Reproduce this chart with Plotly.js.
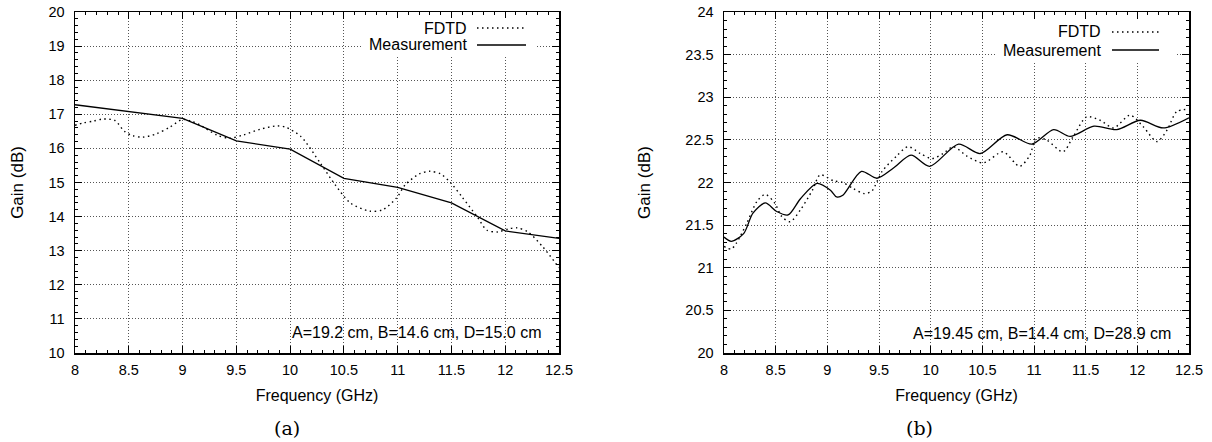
<!DOCTYPE html>
<html>
<head>
<meta charset="utf-8">
<script src="https://cdn.plot.ly/plotly-3.0.1.min.js"></script>
<style>html,body{margin:0;padding:0;background:#fff;}#chart{width:1212px;height:442px;}</style>
</head>
<body>
<div id="chart"></div>
<script>
// ---- Panel (a) data ----
const freqA_meas = [8, 8.5, 9, 9.5, 10, 10.5, 11, 11.5, 12, 12.5];
const gainA_meas = [17.28, 17.08, 16.88, 16.22, 15.98, 15.12, 14.86, 14.40, 13.58, 13.36];

const freqA_fdtd = [8.0, 8.08, 8.17, 8.26, 8.37, 8.46, 8.54, 8.63, 8.76, 8.88, 9.0, 9.08, 9.16, 9.32, 9.44, 9.57, 9.72, 9.88, 9.96, 10.1, 10.28, 10.42, 10.56, 10.74, 10.86, 10.99, 11.07, 11.2, 11.3, 11.4, 11.49, 11.6, 11.74, 11.83, 11.93, 12.03, 12.11, 12.21, 12.35, 12.5];
const gainA_fdtd = [16.68, 16.75, 16.80, 16.86, 16.82, 16.50, 16.37, 16.33, 16.43, 16.62, 16.85, 16.80, 16.69, 16.39, 16.30, 16.40, 16.56, 16.66, 16.62, 16.35, 15.57, 14.93, 14.40, 14.16, 14.20, 14.55, 14.93, 15.25, 15.33, 15.25, 15.00, 14.57, 13.99, 13.60, 13.55, 13.64, 13.67, 13.55, 13.11, 12.50];

// ---- Panel (b) data ----
const freqB_meas = [8.0, 8.07, 8.19, 8.28, 8.40, 8.51, 8.62, 8.74, 8.90, 9.03, 9.09, 9.15, 9.33, 9.48, 9.64, 9.81, 9.99, 10.27, 10.48, 10.74, 10.98, 11.19, 11.35, 11.58, 11.80, 12.03, 12.25, 12.5];
const gainB_meas = [21.36, 21.31, 21.40, 21.64, 21.76, 21.66, 21.62, 21.81, 21.99, 21.91, 21.83, 21.85, 22.13, 22.05, 22.17, 22.32, 22.19, 22.45, 22.34, 22.56, 22.45, 22.62, 22.54, 22.66, 22.62, 22.73, 22.64, 22.76];

const freqB_fdtd = [8.0, 8.07, 8.12, 8.22, 8.32, 8.40, 8.49, 8.56, 8.64, 8.74, 8.86, 8.93, 9.06, 9.15, 9.25, 9.36, 9.43, 9.53, 9.67, 9.78, 9.90, 10.01, 10.12, 10.22, 10.35, 10.51, 10.70, 10.86, 10.96, 11.02, 11.12, 11.28, 11.38, 11.51, 11.64, 11.77, 11.93, 12.06, 12.19, 12.29, 12.38, 12.5];
const gainB_fdtd = [21.25, 21.22, 21.29, 21.52, 21.78, 21.86, 21.76, 21.60, 21.54, 21.68, 21.92, 22.09, 22.02, 22.00, 21.93, 21.87, 21.90, 22.13, 22.31, 22.42, 22.34, 22.28, 22.34, 22.42, 22.31, 22.23, 22.36, 22.19, 22.32, 22.52, 22.50, 22.36, 22.54, 22.77, 22.73, 22.64, 22.79, 22.65, 22.48, 22.62, 22.83, 22.86];

const seriesNames = ['FDTD', 'Measurement'];
const xTitle = 'Frequency (GHz)';
const yTitle = 'Gain (dB)';
const noteA = 'A=19.2 cm, B=14.6 cm, D=15.0 cm';
const noteB = 'A=19.45 cm, B=14.4 cm, D=28.9 cm';
const panelLabels = ['(a)', '(b)'];

// ---- helpers (pixel -> paper) ----
const W = 1212, H = 442;
const px = v => v / W;
const py = v => 1 - v / H;

const dotDash = '1.5px,3.5px';

const traces = [
  {x: freqA_fdtd, y: gainA_fdtd, name: seriesNames[0], type: 'scatter', mode: 'lines', xaxis: 'x', yaxis: 'y',
   line: {color: '#000', width: 1.4, dash: dotDash, shape: 'spline', smoothing: 0.8}},
  {x: freqA_meas, y: gainA_meas, name: seriesNames[1], type: 'scatter', mode: 'lines', xaxis: 'x', yaxis: 'y',
   line: {color: '#000', width: 1.3}},
  {x: freqB_fdtd, y: gainB_fdtd, name: seriesNames[0], type: 'scatter', mode: 'lines', xaxis: 'x2', yaxis: 'y2',
   line: {color: '#000', width: 1.4, dash: dotDash, shape: 'spline', smoothing: 0.8}},
  {x: freqB_meas, y: gainB_meas, name: seriesNames[1], type: 'scatter', mode: 'lines', xaxis: 'x2', yaxis: 'y2',
   line: {color: '#000', width: 1.3, shape: 'spline', smoothing: 0.8}}
];

const FONT = 'Liberation Sans, Arial, Helvetica, sans-serif';

function xAxis(domain, anchor) {
  return {
    domain: domain, anchor: anchor, range: [8, 12.5], tick0: 8, dtick: 0.5,
    ticks: 'inside', ticklen: 7, tickwidth: 1, tickcolor: '#000',
    showline: true, linewidth: 1.5, linecolor: '#000', mirror: 'allticks',
    showgrid: true, gridcolor: '#555', gridwidth: 1, griddash: '1px,2px', zeroline: false,
    minor: {dtick: 0.1, ticks: 'inside', ticklen: 3, tickwidth: 1, tickcolor: '#000', showgrid: false},
    tickfont: {size: 14.5, family: FONT, color: '#000'}, ticklabelstandoff: 3,
    title: {text: xTitle, font: {size: 16, family: FONT, color: '#000'}, standoff: 13},
    automargin: false, fixedrange: true
  };
}
function yAxis(range, dtick, minorDtick, anchor, standoff) {
  return {
    domain: [89 / H, 430 / H], anchor: anchor, range: range, dtick: dtick, tick0: range[0],
    ticks: 'inside', ticklen: 7, tickwidth: 1, tickcolor: '#000',
    showline: true, linewidth: 1.5, linecolor: '#000', mirror: 'allticks',
    showgrid: true, gridcolor: '#555', gridwidth: 1, griddash: '1px,2px', zeroline: false,
    minor: {dtick: minorDtick, ticks: 'inside', ticklen: 3, tickwidth: 1, tickcolor: '#000', showgrid: false},
    tickfont: {size: 14.5, family: FONT, color: '#000'}, ticklabelstandoff: 6,
    title: {text: yTitle, font: {size: 17, family: FONT, color: '#000'}, standoff: standoff},
    automargin: false, fixedrange: true
  };
}

const shapes = [
  // white key boxes
  {type: 'rect', xref: 'paper', yref: 'paper', x0: px(362), x1: px(535), y0: py(56), y1: py(18), fillcolor: '#fff', line: {width: 0}, layer: 'above'},
  {type: 'rect', xref: 'paper', yref: 'paper', x0: px(995), x1: px(1177), y0: py(62), y1: py(20), fillcolor: '#fff', line: {width: 0}, layer: 'above'},
  // key samples
  {type: 'line', xref: 'paper', yref: 'paper', x0: px(477), x1: px(526), y0: py(28), y1: py(28), line: {color: '#000', width: 1.4, dash: dotDash}, layer: 'above'},
  {type: 'line', xref: 'paper', yref: 'paper', x0: px(477), x1: px(526), y0: py(45), y1: py(45), line: {color: '#000', width: 1.3}, layer: 'above'},
  {type: 'line', xref: 'paper', yref: 'paper', x0: px(1112), x1: px(1159), y0: py(32), y1: py(32), line: {color: '#000', width: 1.4, dash: dotDash}, layer: 'above'},
  {type: 'line', xref: 'paper', yref: 'paper', x0: px(1112), x1: px(1159), y0: py(50), y1: py(50), line: {color: '#000', width: 1.3}, layer: 'above'}
];

const tf = {family: FONT, size: 16, color: '#000'};
const serif = {family: 'DejaVu Serif, Liberation Serif, serif', size: 19, color: '#000'};
const annotations = [
  {xref: 'paper', yref: 'paper', x: px(469), y: py(28), text: seriesNames[0], showarrow: false, xanchor: 'right', yanchor: 'middle', font: tf},
  {xref: 'paper', yref: 'paper', x: px(469), y: py(45), text: seriesNames[1], showarrow: false, xanchor: 'right', yanchor: 'middle', font: tf},
  {xref: 'paper', yref: 'paper', x: px(1103), y: py(32), text: seriesNames[0], showarrow: false, xanchor: 'right', yanchor: 'middle', font: tf},
  {xref: 'paper', yref: 'paper', x: px(1103), y: py(50), text: seriesNames[1], showarrow: false, xanchor: 'right', yanchor: 'middle', font: tf},
  {xref: 'paper', yref: 'paper', x: px(543), y: py(332), text: noteA, showarrow: false, xanchor: 'right', yanchor: 'middle', font: tf},
  {xref: 'paper', yref: 'paper', x: px(1173), y: py(333), text: noteB, showarrow: false, xanchor: 'right', yanchor: 'middle', font: tf},
  {xref: 'paper', yref: 'paper', x: px(287), y: py(428), text: panelLabels[0], showarrow: false, xanchor: 'center', yanchor: 'middle', font: serif},
  {xref: 'paper', yref: 'paper', x: px(919), y: py(428), text: panelLabels[1], showarrow: false, xanchor: 'center', yanchor: 'middle', font: serif}
];

const layout = {
  width: W, height: H,
  margin: {l: 0, r: 0, t: 0, b: 0, pad: 0},
  paper_bgcolor: '#fff', plot_bgcolor: '#fff',
  showlegend: false,
  font: {family: FONT, color: '#000'},
  xaxis: xAxis([75 / W, 559 / W], 'y'),
  yaxis: yAxis([10, 20], 1, 0.2, 'x', 20),
  xaxis2: xAxis([724 / W, 1189 / W], 'y2'),
  yaxis2: yAxis([20, 24], 0.5, 0.1, 'x2', 30),
  shapes: shapes,
  annotations: annotations
};

Plotly.newPlot('chart', traces, layout, {staticPlot: true, displayModeBar: false});
</script>
</body>
</html>
